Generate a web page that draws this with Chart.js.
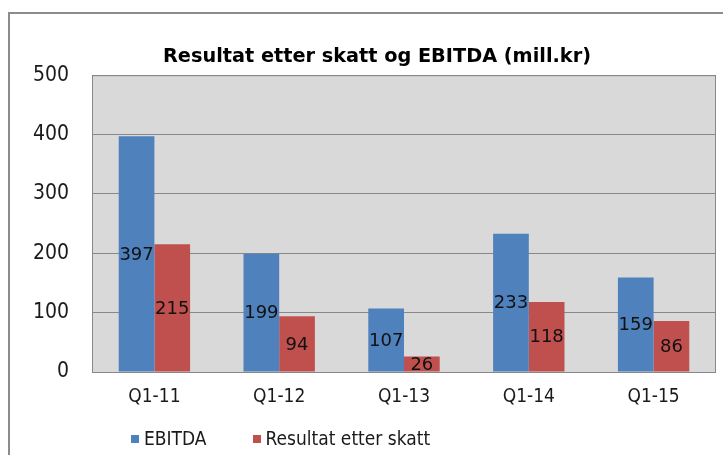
<!DOCTYPE html>
<html lang="no">
<head>
<meta charset="UTF-8">
<title>Resultat etter skatt og EBITDA</title>
<script src="https://cdn.jsdelivr.net/npm/chart.js"></script>
<style>
    body { margin: 0; background: #fff; overflow: hidden; }
    #frame {
        position: absolute; left: 8px; top: 12px;
        width: 750px; height: 460px;
        border-left: 2px solid #8c8c8c; border-top: 2px solid #8c8c8c;
    }
    #wrap { position: absolute; left: 0; top: 0; width: 750px; height: 441px; }
    #legend {
        position: absolute; left: 121px; top: 413px;
        font-family: 'DejaVu Sans Condensed', 'DejaVu Sans', sans-serif;
        font-size: 19px; color: #1a1a1a;
    }
    #legend span.item { margin-right: 46px; }
    #legend i { display: inline-block; width: 8px; height: 8px; margin-right: 5px; vertical-align: 2px; }
</style>
</head>
<body>
<div id="frame">
    <div id="wrap"><canvas id="chart"></canvas></div>
    <div id="legend"></div>
</div>
<script>
    // data
    var quarters = ['Q1-11', 'Q1-12', 'Q1-13', 'Q1-14', 'Q1-15'];
    var ebitda = [397, 199, 107, 233, 159];
    var resultat = [215, 94, 26, 118, 86];
    var seriesNames = ['EBITDA', 'Resultat etter skatt'];
    var seriesColors = ['#4f81bd', '#c0504d'];

    // grey plot area with a border
    var plotBg = {
        id: 'plotBg',
        beforeDraw: function (chart) {
            var a = chart.chartArea, ctx = chart.ctx;
            ctx.save();
            ctx.fillStyle = '#d9d9d9';
            ctx.fillRect(a.left, a.top, a.right - a.left, a.bottom - a.top);
            ctx.restore();
        },
        afterDatasetsDraw: function (chart) {
            var a = chart.chartArea, ctx = chart.ctx;
            ctx.save();
            ctx.strokeStyle = '#888888';
            ctx.lineWidth = 1;
            ctx.strokeRect(a.left + 0.5, a.top + 0.5, a.right - a.left - 1, a.bottom - a.top);
            ctx.restore();
        }
    };

    // value labels in the middle of every bar
    var barLabels = {
        id: 'barLabels',
        afterDatasetsDraw: function (chart) {
            var ctx = chart.ctx;
            ctx.save();
            ctx.font = '18px "DejaVu Sans", sans-serif';
            ctx.fillStyle = '#111';
            ctx.textAlign = 'center';
            ctx.textBaseline = 'middle';
            chart.data.datasets.forEach(function (ds, i) {
                chart.getDatasetMeta(i).data.forEach(function (bar, j) {
                    ctx.fillText(ds.data[j], bar.x, (bar.y + bar.base) / 2 + 1);
                });
            });
            ctx.restore();
        }
    };

    new Chart(document.getElementById('chart'), {
        type: 'bar',
        data: {
            labels: quarters,
            datasets: [
                { label: seriesNames[0], data: ebitda, backgroundColor: seriesColors[0] },
                { label: seriesNames[1], data: resultat, backgroundColor: seriesColors[1] }
            ]
        },
        options: {
            responsive: true,
            maintainAspectRatio: false,
            animation: false,
            layout: { padding: { left: 0, right: 16, top: 0, bottom: 43 } },
            datasets: { bar: { categoryPercentage: 0.572, barPercentage: 1 } },
            plugins: {
                legend: { display: false },
                tooltip: { enabled: false },
                title: {
                    display: true,
                    text: 'Resultat etter skatt og EBITDA (mill.kr)',
                    color: '#000',
                    font: { family: '"DejaVu Sans", sans-serif', size: 19.3, weight: 'bold' },
                    padding: { top: 31, bottom: 7 }
                }
            },
            scales: {
                x: {
                    grid: { display: false },
                    border: { display: false },
                    ticks: {
                        color: '#1a1a1a', padding: 6,
                        font: { family: '"DejaVu Sans Condensed", "DejaVu Sans", sans-serif', size: 19 }
                    },
                    afterFit: function (s) { s.height = 40; }
                },
                y: {
                    min: 0, max: 500,
                    ticks: {
                        stepSize: 100, color: '#1a1a1a', padding: 23,
                        font: { family: '"DejaVu Sans Condensed", "DejaVu Sans", sans-serif', size: 21 }
                    },
                    grid: { color: '#888888', lineWidth: 1, drawTicks: false },
                    border: { display: false },
                    afterFit: function (s) { s.width = 82; }
                },
                // empty right-hand axis, only keeps the plot narrower so the title sits where it does in the original
                yRight: {
                    position: 'right',
                    min: 0, max: 500,
                    grid: { display: false },
                    border: { display: false },
                    ticks: { display: false },
                    afterFit: function (s) { s.width = 28; }
                }
            }
        },
        plugins: [plotBg, barLabels]
    });

    // legend below the axis
    var legend = document.getElementById('legend');
    seriesNames.forEach(function (name, i) {
        var item = document.createElement('span');
        item.className = 'item';
        var box = document.createElement('i');
        box.style.background = seriesColors[i];
        item.appendChild(box);
        item.appendChild(document.createTextNode(name));
        legend.appendChild(item);
    });
</script>
</body>
</html>
